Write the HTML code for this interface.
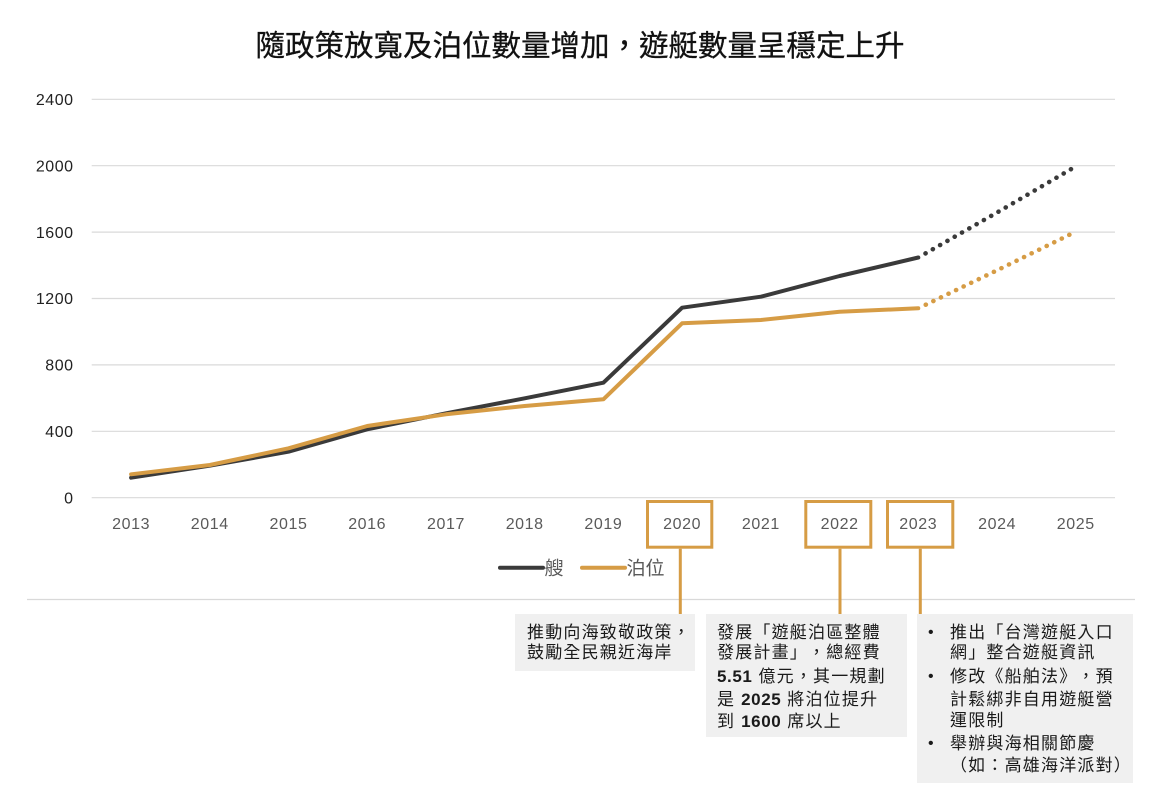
<!DOCTYPE html>
<html lang="zh-Hant">
<head>
<meta charset="utf-8">
<style>
  html, body { margin: 0; padding: 0; background: #ffffff; }
  body { width: 1160px; height: 798px; position: relative; overflow: hidden;
         font-family: "Liberation Sans", "Noto Sans CJK TC", sans-serif;
         text-spacing-trim: space-all; }
  svg { position: absolute; left: 0; top: 0; }
  svg text { text-spacing-trim: space-all; }
  .box { position: absolute; background: #f0f0f0; }
  .ln { position: absolute; white-space: nowrap; font-size: 17px; line-height: 20px;
        letter-spacing: 1.2px; color: #1a1a1a; text-spacing-trim: space-all;
        font-family: "Liberation Sans", "Noto Sans CJK TC", sans-serif; }
  .num { font-weight: bold; letter-spacing: 0.6px; }
  .bul { position: absolute; font-size: 16px; line-height: 20px; color: #1a1a1a; }
</style>
</head>
<body>
<svg width="1160" height="798" viewBox="0 0 1160 798" xmlns="http://www.w3.org/2000/svg">
  <!-- title -->
  <text x="580" y="56" text-anchor="middle" font-family="Liberation Sans, Noto Sans CJK TC, sans-serif" font-size="29.5" fill="#111" stroke="#111" stroke-width="0.3">隨政策放寬及泊位數量增加，遊艇數量呈穩定上升</text>

  <!-- gridlines -->
  <g stroke="#dadada" stroke-width="1.2">
    <line x1="91.7" y1="99.3" x2="1115" y2="99.3"/>
    <line x1="91.7" y1="165.7" x2="1115" y2="165.7"/>
    <line x1="91.7" y1="232.1" x2="1115" y2="232.1"/>
    <line x1="91.7" y1="298.5" x2="1115" y2="298.5"/>
    <line x1="91.7" y1="364.9" x2="1115" y2="364.9"/>
    <line x1="91.7" y1="431.3" x2="1115" y2="431.3"/>
    <line x1="91.7" y1="497.7" x2="1115" y2="497.7"/>
  </g>

  <!-- y labels -->
  <g font-family="Liberation Sans, sans-serif" font-size="16" fill="#222" text-anchor="end" letter-spacing="0.5">
    <text x="73.5" y="105">2400</text>
    <text x="73.5" y="171.4">2000</text>
    <text x="73.5" y="237.8">1600</text>
    <text x="73.5" y="304.2">1200</text>
    <text x="73.5" y="370.6">800</text>
    <text x="73.5" y="437">400</text>
    <text x="73.5" y="503.4">0</text>
  </g>

  <!-- x labels -->
  <g font-family="Liberation Sans, sans-serif" font-size="16" fill="#5a5a5a" text-anchor="middle" letter-spacing="0.6">
    <text x="131.1" y="529">2013</text>
    <text x="209.8" y="529">2014</text>
    <text x="288.5" y="529">2015</text>
    <text x="367.2" y="529">2016</text>
    <text x="446" y="529">2017</text>
    <text x="524.7" y="529">2018</text>
    <text x="603.4" y="529">2019</text>
    <text x="682.1" y="529">2020</text>
    <text x="760.9" y="529">2021</text>
    <text x="839.6" y="529">2022</text>
    <text x="918.3" y="529">2023</text>
    <text x="997.1" y="529">2024</text>
    <text x="1075.8" y="529">2025</text>
  </g>

  <!-- dark series -->
  <polyline fill="none" stroke="#3a3a3a" stroke-width="4" stroke-linejoin="round" stroke-linecap="round"
    points="131.1,477.7 209.8,465.7 288.5,451.7 367.2,429.3 446,413.3 524.7,398.3 603.4,382.7 682.1,307.7 760.9,296.7 839.6,276 918.3,257.5"/>
  <polyline fill="none" stroke="#3a3a3a" stroke-width="4.6" stroke-linecap="round" stroke-dasharray="0.1 8.3" stroke-dashoffset="-8.3"
    points="918.3,257.5 997.1,212.5 1073,168"/>

  <!-- gold series -->
  <polyline fill="none" stroke="#d69c45" stroke-width="4" stroke-linejoin="round" stroke-linecap="round"
    points="131.1,474.3 209.8,465 288.5,448.3 367.2,426 446,414.3 524.7,406 603.4,399.3 682.1,323.3 760.9,320 839.6,311.7 918.3,308.3"/>
  <polyline fill="none" stroke="#d69c45" stroke-width="4.6" stroke-linecap="round" stroke-dasharray="0.1 8.3" stroke-dashoffset="-8.3"
    points="918.3,308.3 997.1,270.3 1074.5,232.3"/>

  <!-- legend -->
  <line x1="500" y1="567.7" x2="543" y2="567.7" stroke="#3a3a3a" stroke-width="4" stroke-linecap="round"/>
  <text x="544.5" y="574.5" font-family="Liberation Sans, Noto Sans CJK TC, sans-serif" font-size="19" fill="#595959">艘</text>
  <line x1="582" y1="567.7" x2="625" y2="567.7" stroke="#d69c45" stroke-width="4" stroke-linecap="round"/>
  <text x="626.5" y="574.5" font-family="Liberation Sans, Noto Sans CJK TC, sans-serif" font-size="19" fill="#595959">泊位</text>

  <!-- separator -->
  <line x1="27" y1="599.5" x2="1135" y2="599.5" stroke="#d9d9d9" stroke-width="1.2"/>

  <!-- year highlight boxes -->
  <g fill="none" stroke="#d69c45" stroke-width="3">
    <rect x="647.5" y="501.5" width="64.3" height="45.7"/>
    <rect x="805.8" y="501.5" width="65" height="45.7"/>
    <rect x="887.5" y="501.5" width="65.3" height="45.7"/>
    <line x1="680.3" y1="548.7" x2="680.3" y2="614"/>
    <line x1="840" y1="548.7" x2="840" y2="614"/>
    <line x1="920.3" y1="548.7" x2="920.3" y2="614"/>
  </g>
</svg>

<!-- annotation box 1 -->
<div class="box" style="left:515px; top:614px; width:180px; height:57px;"></div>
<div class="ln" style="left:527px; top:622.5px;">推動向海致敬政策，</div>
<div class="ln" style="left:527px; top:643.3px;">鼓勵全民親近海岸</div>

<!-- annotation box 2 -->
<div class="box" style="left:706.3px; top:614px; width:200.7px; height:122.7px;"></div>
<div class="ln" style="left:717px; top:623.3px;">發展「遊艇泊區整體</div>
<div class="ln" style="left:717px; top:643.3px;">發展計畫」，總經費</div>
<div class="ln" style="left:717px; top:666.7px;"><span class="num">5.51</span> 億元，其一規劃</div>
<div class="ln" style="left:717px; top:690px;">是 <span class="num">2025</span> 將泊位提升</div>
<div class="ln" style="left:717px; top:711.7px;">到 <span class="num">1600</span> 席以上</div>

<!-- annotation box 3 -->
<div class="box" style="left:917.3px; top:614px; width:215.4px; height:169.3px;"></div>
<div class="bul" style="left:928px; top:623.3px;">•</div>
<div class="ln" style="left:950px; top:623.3px;">推出「台灣遊艇入口</div>
<div class="ln" style="left:950px; top:643.3px;">網」整合遊艇資訊</div>
<div class="bul" style="left:928px; top:666.7px;">•</div>
<div class="ln" style="left:950px; top:666.7px;">修改《船舶法》，預</div>
<div class="ln" style="left:950px; top:690px;">計鬆綁非自用遊艇營</div>
<div class="ln" style="left:950px; top:710.7px;">運限制</div>
<div class="bul" style="left:928px; top:734px;">•</div>
<div class="ln" style="left:950px; top:734px;">舉辦與海相關節慶</div>
<div class="ln" style="left:950px; top:755.7px;">（如：高雄海洋派對）</div>
</body>
</html>
